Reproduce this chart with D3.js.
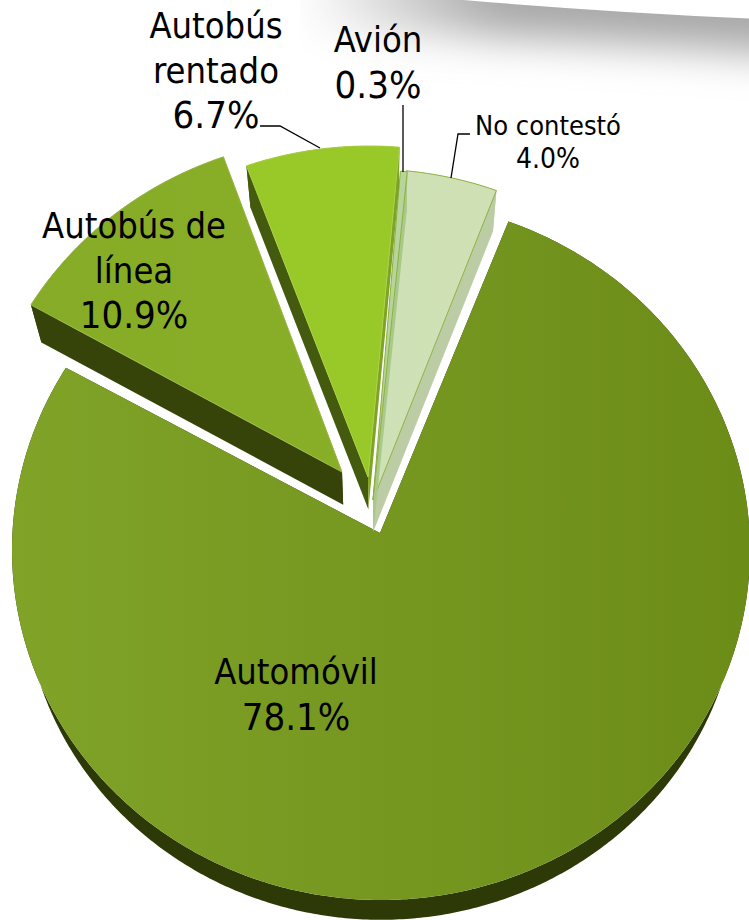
<!DOCTYPE html>
<html>
<head>
<meta charset="utf-8">
<script src="https://cdn.jsdelivr.net/npm/d3@7"></script>
<style>
  html, body { margin: 0; padding: 0; background: #fff; }
  svg { display: block; }
  text { font-family: "DejaVu Sans"; font-stretch: condensed; fill: #000; text-anchor: middle; }
</style>
</head>
<body>
<div id="chart"></div>
<script>
// data
var categories = ["Automóvil", "Autobús de línea", "Autobús rentado", "Avión", "No contestó"];
var shares = [78.1, 10.9, 6.7, 0.3, 4.0];

var svgWidth = 749;
var svgHeight = 920;

// the tilted pie: rim ellipse, apex and the point the walls run towards
var rim = { cx: 381, cy: 550, rx: 369, ry: 350 };
var apex = { x: 380, y: 533 };
var vanish = { x: 381, y: 1560 };
var depth = 0.03;
var firstAngle = 20.2 * Math.PI / 180;

// per slice drawing styles, same order as categories
// dx/dy push the rim out, ax/ay push the apex out
var sliceStyle = [
  { dx: 0, dy: 0, ax: 0, ay: 0, left: "#80a328", right: "#6c8c18", wall: "#2d3a08", sideA: "#2d3a08", sideB: "#2d3a08", edge: "none", order: 0 },
  { dx: -35, dy: -63, ax: -38, ay: -61, left: "#86ab26", right: "#8cb22a", wall: "#364409", sideA: "#364409", sideB: "#364409", edge: "#9dbb4a", order: 4 },
  { dx: -12, dy: -54, ax: -12, ay: -56, left: "#98c827", right: "#9aca29", wall: "#445a0e", sideA: "#445a0e", sideB: "#7fa326", edge: "#a9d145", order: 3 },
  { dx: -11, dy: -30, ax: -7, ay: -33, left: "#b7d59a", right: "#b7d59a", wall: "#9fbb78", sideA: "#a9c98a", sideB: "#a9c98a", edge: "#8fb040", order: 2 },
  { dx: -12, dy: -31, ax: -7, ay: -33, left: "#cfe1b6", right: "#cee0b4", wall: "#bccca5", sideA: "#bccca5", sideB: "#bccca5", edge: "#8fb040", order: 1 }
];

// label lines are placed by hand as in the picture
var labelStyle = [
  { lines: ["Automóvil"], x: 296, y: 684, size: 36, shareSize: 38, gap: 46 },
  { lines: ["Autobús de", "línea"], x: 134, y: 238, size: 36, shareSize: 38, gap: 45 },
  { lines: ["Autobús", "rentado"], x: 216, y: 38, size: 36, shareSize: 38, gap: 45 },
  { lines: ["Avión"], x: 378, y: 52, size: 36, shareSize: 38, gap: 46 },
  { lines: ["No contestó"], x: 548, y: 135, size: 27, shareSize: 28, gap: 33 }
];

var leaders = [
  [[260, 126], [280, 126], [320, 148]],
  [[403, 105], [403, 172]],
  [[470, 134], [458, 134], [451, 178]]
];

var svg = d3.select("#chart")
  .append("svg")
  .attr("width", svgWidth)
  .attr("height", svgHeight);

var defs = svg.append("defs");

// grey swoosh in the top right corner
defs.append("filter")
  .attr("id", "soft")
  .attr("filterUnits", "userSpaceOnUse")
  .attr("x", 200).attr("y", -150)
  .attr("width", 700).attr("height", 400)
  .append("feGaussianBlur")
  .attr("stdDeviation", 20);

defs.append("clipPath")
  .attr("id", "belowEdge")
  .append("path")
  .attr("d", "M440,-2 Q600,12 760,19 L760,140 L300,140 L300,-2 Z");

var fadeLeft = defs.append("linearGradient")
  .attr("id", "fadeLeft")
  .attr("gradientUnits", "userSpaceOnUse")
  .attr("x1", 300).attr("x2", 500).attr("y1", 0).attr("y2", 0);
fadeLeft.append("stop").attr("offset", 0).attr("stop-color", "#fff");
fadeLeft.append("stop").attr("offset", 1).attr("stop-color", "#a8a8a8");

svg.append("g")
  .attr("clip-path", "url(#belowEdge)")
  .append("path")
  .attr("d", "M300,-12 Q600,0 800,16")
  .attr("fill", "none")
  .attr("stroke", "url(#fadeLeft)")
  .attr("stroke-width", 80)
  .attr("filter", "url(#soft)");

// angles come from d3.pie, clockwise from the top
var pie = d3.pie()
  .sort(null)
  .startAngle(firstAngle)
  .endAngle(firstAngle + 2 * Math.PI);

var slices = pie(shares).map(function(d, i) {
  return { startAngle: d.startAngle, endAngle: d.endAngle, name: categories[i], value: d.value, style: sliceStyle[i], index: i };
});

var lineGen = d3.line().x(p => p[0]).y(p => p[1]);

function rimPoint(a, s) {
  return [rim.cx + rim.rx * Math.sin(a) + s.dx, rim.cy - rim.ry * Math.cos(a) + s.dy];
}

function apexPoint(s) {
  return [apex.x + s.ax, apex.y + s.ay];
}

function lower(p) {
  return [p[0] + (vanish.x - p[0]) * depth, p[1] + (vanish.y - p[1]) * depth];
}

function rimPoints(d) {
  var steps = Math.max(2, Math.ceil((d.endAngle - d.startAngle) / 0.01));
  return d3.range(steps + 1).map(function(k) {
    return rimPoint(d.startAngle + (d.endAngle - d.startAngle) * k / steps, d.style);
  });
}

slices.forEach(function(d) {
  defs.append("linearGradient")
    .attr("id", "top" + d.index)
    .attr("gradientUnits", "userSpaceOnUse")
    .attr("x1", 0).attr("x2", svgWidth).attr("y1", 0).attr("y2", 0)
    .call(g => g.append("stop").attr("offset", 0).attr("stop-color", d.style.left))
    .call(g => g.append("stop").attr("offset", 1).attr("stop-color", d.style.right));
});

var sliceGroups = svg.selectAll("g.slice")
  .data(slices.slice().sort((a, b) => a.style.order - b.style.order))
  .enter()
  .append("g")
  .attr("class", "slice");

// outer wall
sliceGroups.append("path")
  .attr("fill", d => d.style.wall)
  .attr("d", function(d) {
    var pts = rimPoints(d);
    return lineGen(pts.concat(pts.map(lower).reverse())) + "Z";
  });

// the two cut walls
sliceGroups.append("path")
  .attr("fill", d => d.style.sideA)
  .attr("d", function(d) {
    var a = rimPoint(d.startAngle, d.style);
    var c = apexPoint(d.style);
    return lineGen([a, c, lower(c), lower(a)]) + "Z";
  });

sliceGroups.append("path")
  .attr("fill", d => d.style.sideB)
  .attr("d", function(d) {
    var b = rimPoint(d.endAngle, d.style);
    var c = apexPoint(d.style);
    return lineGen([b, c, lower(c), lower(b)]) + "Z";
  });

// top face
sliceGroups.append("path")
  .attr("fill", d => "url(#top" + d.index + ")")
  .attr("stroke", d => d.style.edge)
  .attr("stroke-width", 1)
  .attr("stroke-linejoin", "round")
  .attr("d", d => lineGen([apexPoint(d.style)].concat(rimPoints(d))) + "Z");

// leader lines
svg.selectAll("path.leader")
  .data(leaders)
  .enter()
  .append("path")
  .attr("class", "leader")
  .attr("fill", "none")
  .attr("stroke", "#000")
  .attr("stroke-width", 1.3)
  .attr("d", lineGen);

// labels
var formatShare = d3.format(".1f");

var labels = svg.selectAll("text.label")
  .data(slices)
  .enter()
  .append("text")
  .attr("class", "label");

labels.selectAll("tspan")
  .data(function(d) {
    var pos = labelStyle[d.index];
    var rows = pos.lines.map(line => ({ line: line, size: pos.size }));
    rows.push({ line: formatShare(d.value) + "%", size: pos.shareSize });
    return rows.map((r, k) => ({ line: r.line, size: r.size, k: k, pos: pos }));
  })
  .enter()
  .append("tspan")
  .attr("x", t => t.pos.x)
  .attr("y", t => t.pos.y + t.k * t.pos.gap)
  .attr("font-size", t => t.size)
  .text(t => t.line);
</script>
</body>
</html>
